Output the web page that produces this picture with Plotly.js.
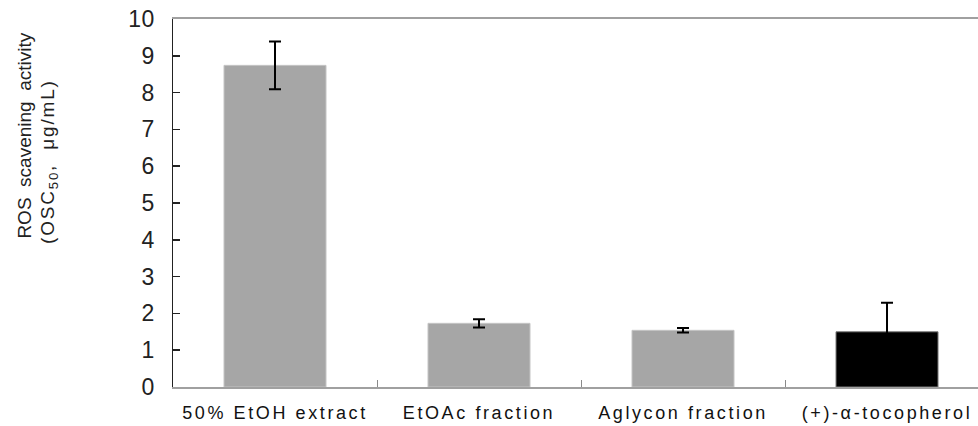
<!DOCTYPE html>
<html>
<head>
<meta charset="utf-8">
<script src="https://cdn.plot.ly/plotly-3.0.1.min.js"></script>
<style>
  html, body { margin: 0; padding: 0; background: #fff; }
  #chart { width: 978px; height: 426px; }
  /* wide-tracked lettering for the category labels and the unit line */
  .xtick text { letter-spacing: 2.6px; }
  .ytick text { letter-spacing: 0.5px; }
  .annotation[data-index="1"] .annotation-text { letter-spacing: 1.8px; }
</style>
</head>
<body>
<div id="chart"></div>
<script>
// Samples and their ROS scavenging activity (OSC50, µg/mL) with standard deviations
const categories = ['50% EtOH extract', 'EtOAc fraction', 'Aglycon fraction', '(+)-\u03b1-tocopherol'];
const values = [8.74, 1.73, 1.54, 1.50];
const errors = [0.65, 0.11, 0.06, 0.79];
const barColors = ['#a6a6a6', '#a6a6a6', '#a6a6a6', '#000000'];
const edgeColors = ['#c4c4c4', '#c4c4c4', '#c4c4c4', '#7a7a7a'];
const yTicks = [0, 1, 2, 3, 4, 5, 6, 7, 8, 9, 10];
const yTitleLines = ['ROS\u00a0\u00a0scavening\u00a0\u00a0activity', '(OSC<sub>50</sub>,\u00a0\u00a0\u03bcg/mL)'];

const font = 'Liberation Sans, Arial, sans-serif';

const trace = {
  type: 'bar',
  x: categories,
  y: values,
  width: 0.5,
  marker: { color: barColors, line: { color: edgeColors, width: 1 } },
  error_y: {
    type: 'data',
    array: errors,
    visible: true,
    color: '#000000',
    thickness: 2,
    width: 6
  },
  hoverinfo: 'x+y'
};

const layout = {
  width: 978,
  height: 426,
  margin: { l: 173, r: 0, t: 19, b: 39 },
  paper_bgcolor: '#ffffff',
  plot_bgcolor: '#ffffff',
  showlegend: false,
  font: { family: font, color: '#222' },
  xaxis: {
    type: 'category',
    range: [-0.5, 3.446],
    showline: true,
    linecolor: '#a0a0a0',
    linewidth: 2,
    mirror: true,
    ticks: 'inside',
    tickson: 'boundaries',
    ticklen: 7,
    tickcolor: '#8a8a8a',
    tickwidth: 1,
    ticklabelstandoff: 8,
    tickfont: { family: font, size: 18, color: '#111' },
    showgrid: false,
    zeroline: false,
    fixedrange: true
  },
  yaxis: {
    range: [0, 10],
    tickmode: 'array',
    tickvals: yTicks,
    ticktext: yTicks.map(String),
    showline: true,
    linecolor: '#222',
    linewidth: 1.5,
    ticks: 'inside',
    ticklen: 7,
    tickcolor: '#222',
    tickwidth: 1.5,
    ticklabelstandoff: 12,
    tickfont: { family: font, size: 23, color: '#222' },
    showgrid: false,
    zeroline: false,
    fixedrange: true
  },
  // two-line rotated axis title, both lines starting at the same height
  annotations: [
    {
      text: yTitleLines[0],
      xref: 'paper', yref: 'paper',
      x: -0.185, y: 0.398,
      xanchor: 'center', yanchor: 'bottom',
      textangle: -90,
      showarrow: false,
      font: { family: font, size: 19, color: '#222' }
    },
    {
      text: yTitleLines[1],
      xref: 'paper', yref: 'paper',
      x: -0.154, y: 0.42,
      xanchor: 'center', yanchor: 'bottom',
      textangle: -90,
      showarrow: false,
      font: { family: font, size: 19, color: '#222' }
    }
  ]
};

Plotly.newPlot('chart', [trace], layout, { displayModeBar: false, staticPlot: true });
</script>
</body>
</html>
